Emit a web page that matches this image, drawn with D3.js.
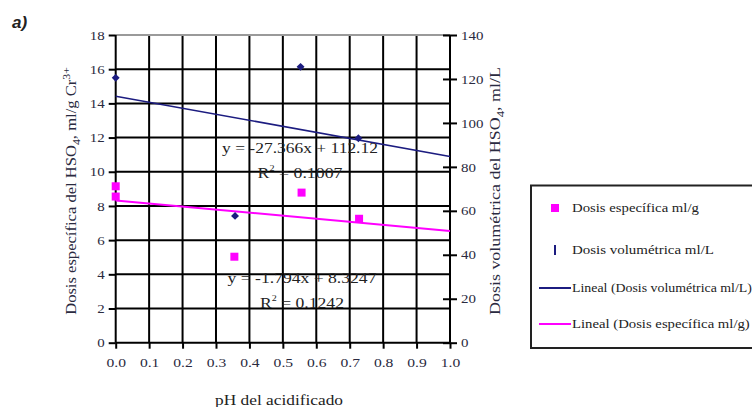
<!DOCTYPE html>
<html><head><meta charset="utf-8">
<script src="https://cdn.jsdelivr.net/npm/d3@7"></script>
<style>body{margin:0;background:#fff}svg{display:block}</style>
</head><body>
<svg id="c" width="752" height="407"></svg>
<script>
// ---- data ----
const xTicks = [0,0.1,0.2,0.3,0.4,0.5,0.6,0.7,0.8,0.9,1.0];
const yLeftTicks = [0,2,4,6,8,10,12,14,16,18];
const yRightTicks = [0,20,40,60,80,100,120,140];
// Dosis específica ml/g (left axis)
const espX = [0, 0, 0.355, 0.556, 0.728];
const espY = [9.15, 8.55, 5.03, 8.78, 7.25];
// Dosis volumétrica ml/L (right axis)
const volX = [0, 0.357, 0.553, 0.726];
const volY = [120.5, 57.7, 125.5, 93];
// trend lines (from equations shown)
const volTrend = {slope: -27.366, intercept: 112.12, r2: "0.1007"};
const espTrend = {slope: -1.794, intercept: 8.3247, r2: "0.1242"};
const legendLabels = ["Dosis específica ml/g","Dosis volumétrica ml/L","Lineal (Dosis volumétrica ml/L)","Lineal (Dosis específica ml/g)"];

const NAVY = "#1c1c80", PINK = "#ff00ff", TXT = "#2a2a40";
const svg = d3.select("#c");
const x = d3.scaleLinear().domain([0,1]).range([115.7,450]);
const yL = d3.scaleLinear().domain([0,18]).range([342.7,35]);
const yR = d3.scaleLinear().domain([0,140]).range([342.7,35]);
const serif = "'Liberation Serif','Times New Roman',serif";

// text placed at (cx,cy), rotated, then stretched horizontally to a target width
function label(cx, cy, rot, anchor, size, target, fill){
  const g = svg.append("g").attr("transform",`translate(${cx},${cy}) rotate(${rot})`);
  const t = g.append("text").attr("text-anchor",anchor)
    .style("font-family",serif).style("font-size",size+"px").attr("fill",fill||"#222");
  t.fitTo = () => { const w = t.node().getComputedTextLength(); if (target) t.attr("transform",`scale(${target/w},1)`); return t; };
  return t;
}

// title
svg.append("text").attr("x",12).attr("y",28).style("font-family","'Liberation Sans',Arial,sans-serif")
  .style("font-size","17px").style("font-style","italic").style("font-weight","bold").attr("fill","#222").text("a)");

// grid
const g = svg.append("g");
g.selectAll("line.v").data(xTicks.slice(1,-1)).join("line")
  .attr("x1",d=>x(d)).attr("x2",d=>x(d)).attr("y1",yL(18)).attr("y2",yL(0))
  .attr("stroke","#000").attr("stroke-width",2);
g.selectAll("line.h").data(yLeftTicks.slice(1,-1)).join("line")
  .attr("x1",x(0)).attr("x2",x(1)).attr("y1",d=>yL(d)).attr("y2",d=>yL(d))
  .attr("stroke","#000").attr("stroke-width",2);
g.append("line").attr("x1",x(0)).attr("x2",x(1)).attr("y1",yL(18)).attr("y2",yL(18))
  .attr("stroke","#9a9a9a").attr("stroke-width",2);

// axes
const axL = svg.append("g").attr("transform",`translate(${x(0)},0)`)
  .call(d3.axisLeft(yL).tickValues(yLeftTicks).tickFormat(d3.format("d")).tickSize(7).tickPadding(4));
const axR = svg.append("g").attr("transform",`translate(${x(1)},0)`)
  .call(d3.axisRight(yR).tickValues(yRightTicks).tickFormat(d3.format("d")).tickSize(7).tickPadding(4));
axR.selectAll(".tick line").attr("x1",-7);
const axB = svg.append("g").attr("transform",`translate(0,${yL(0)})`)
  .call(d3.axisBottom(x).tickValues(xTicks).tickFormat(d3.format(".1f")).tickSize(6).tickPadding(9));
[axL,axR,axB].forEach(a=>{
  a.attr("font-family",null).attr("font-size",null);
  a.select(".domain").attr("stroke","#000").attr("stroke-width",2);
  a.selectAll(".tick line").attr("stroke","#000").attr("stroke-width",2);
  a.selectAll(".tick text").style("font-family",serif).style("font-size","13px").attr("fill",TXT);
});
// widen tick labels slightly like the reference
axB.selectAll(".tick text").attr("transform","scale(1.2,1)").attr("x",0);
axL.selectAll(".tick text").attr("transform","scale(1.15,1)").attr("x",-11/1.15);
axR.selectAll(".tick text").attr("transform","scale(1.15,1)").attr("x",11/1.15);
axL.select(".domain").attr("d",`M0,${yL(18)}V${yL(0)}`);
axR.select(".domain").attr("d",`M0,${yR(140)}V${yR(0)}`);
axB.select(".domain").attr("d",`M${x(0)},0H${x(1)}`);

// trend lines
svg.append("line").attr("x1",x(0)).attr("x2",x(1))
  .attr("y1",yR(volTrend.intercept)).attr("y2",yR(volTrend.intercept+volTrend.slope))
  .attr("stroke",NAVY).attr("stroke-width",1.6);
svg.append("line").attr("x1",x(0)).attr("x2",x(1))
  .attr("y1",yL(espTrend.intercept)).attr("y2",yL(espTrend.intercept+espTrend.slope))
  .attr("stroke",PINK).attr("stroke-width",2);

// points
svg.selectAll("rect.esp").data(espX.map((d,i)=>[d,espY[i]])).join("rect")
  .attr("x",d=>x(d[0])-4).attr("y",d=>yL(d[1])-4).attr("width",8).attr("height",8).attr("fill",PINK);
svg.selectAll("rect.vol").data(volX.map((d,i)=>[d,volY[i]])).join("rect")
  .attr("x",-2.8).attr("y",-2.8).attr("width",5.6).attr("height",5.6)
  .attr("transform",d=>`translate(${x(d[0])},${yR(d[1])}) rotate(45)`).attr("fill",NAVY);

// equations
function eq(cx, cy, text, r2, w1, w2){
  label(cx, cy, 0, "middle", 14, w1).text(text).fitTo();
  const t = label(cx, cy+25, 0, "middle", 14, w2);
  t.append("tspan").text("R");
  t.append("tspan").attr("dy",-7).style("font-size","8px").text("2");
  t.append("tspan").attr("dy",7).text(" = " + r2);
  t.fitTo();
}
eq(300, 153, `y = ${volTrend.slope}x + ${volTrend.intercept}`, volTrend.r2, 156, 85);
eq(302, 283, `y = ${espTrend.slope}x + ${espTrend.intercept}`, espTrend.r2, 149, 84);

// axis titles
const lt = label(76, 191, -90, "middle", 14, 248, TXT);
lt.append("tspan").text("Dosis específica del HSO");
lt.append("tspan").attr("dy",4).style("font-size","10px").text("4");
lt.append("tspan").attr("dy",-4).text(", ml/g Cr");
lt.append("tspan").attr("dy",-6).style("font-size","10px").text("3+");
lt.fitTo();
const rt = label(500, 191, -90, "middle", 14, 248, TXT);
rt.append("tspan").text("Dosis volumétrica del HSO");
rt.append("tspan").attr("dy",4).style("font-size","10px").text("4");
rt.append("tspan").attr("dy",-4).text(", ml/L");
rt.fitTo();
label(279, 405, 0, "middle", 14, 128).text("pH del acidificado").fitTo();

// legend
const lg = svg.append("g");
lg.append("rect").attr("x",531).attr("y",185.5).attr("width",260).attr("height",162.5)
  .attr("fill","#fff").attr("stroke","#222").attr("stroke-width",2);
const ly = [208,250,288,324];
lg.append("rect").attr("x",551).attr("y",ly[0]-4).attr("width",8).attr("height",8).attr("fill",PINK);
lg.append("rect").attr("x",554).attr("y",ly[1]-5).attr("width",2).attr("height",10).attr("fill",NAVY);
lg.append("line").attr("x1",539).attr("x2",571).attr("y1",ly[2]).attr("y2",ly[2]).attr("stroke",NAVY).attr("stroke-width",2);
lg.append("line").attr("x1",539).attr("x2",571).attr("y1",ly[3]).attr("y2",ly[3]).attr("stroke",PINK).attr("stroke-width",2);
const legW = [127,142,180,178];
legendLabels.forEach((d,i)=>{
  label(572, ly[i]+4, 0, "start", 13, legW[i]).text(d).fitTo();
});
</script>
</body></html>
